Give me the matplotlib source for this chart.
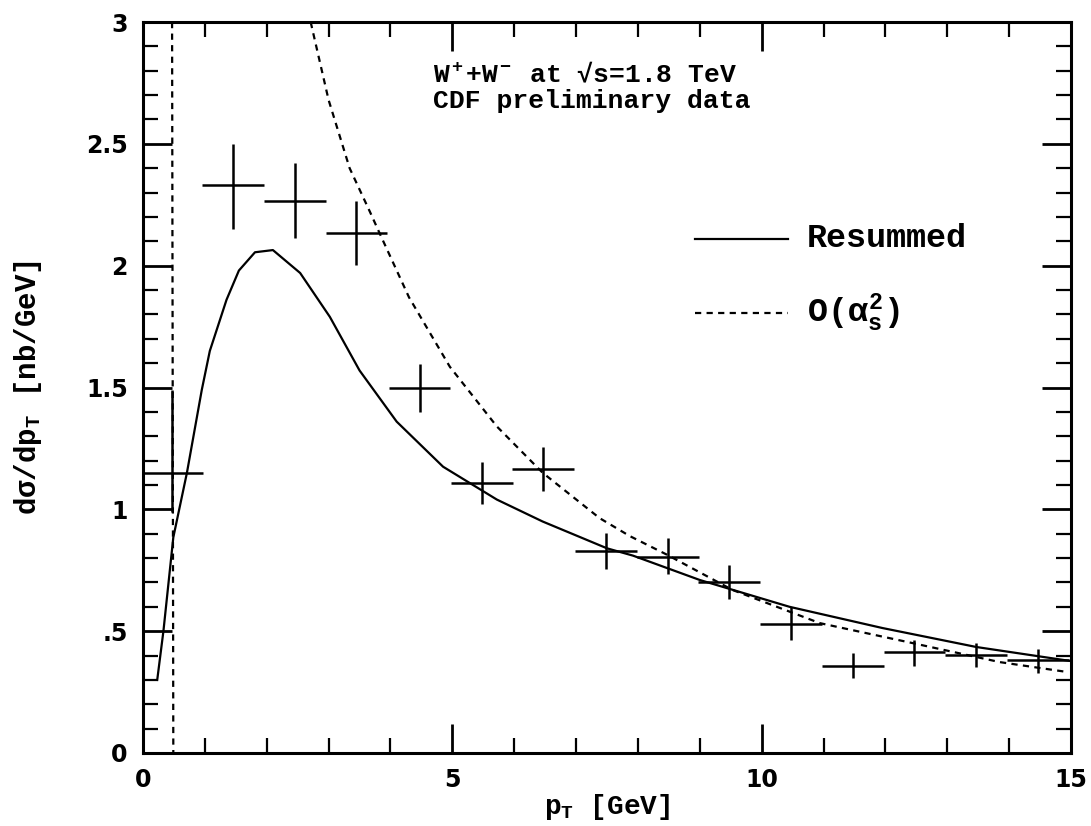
import matplotlib
matplotlib.use("Agg")
import matplotlib.pyplot as plt
from matplotlib.ticker import MultipleLocator, FixedLocator

plt.rcParams['font.family'] = ['Liberation Mono', 'DejaVu Serif']
plt.rcParams['font.weight'] = 'bold'
plt.rcParams['axes.labelweight'] = 'bold'
plt.rcParams['mathtext.fontset'] = 'custom'
plt.rcParams['mathtext.rm'] = 'Liberation Mono:bold'
plt.rcParams['mathtext.it'] = 'Liberation Mono:bold'
plt.rcParams['mathtext.bf'] = 'Liberation Mono:bold'

# CDF preliminary data (bin centers, values, errors)
data_x = [0.47, 1.45, 2.45, 3.45, 4.47, 5.48, 6.47, 7.48, 8.48, 9.47, 10.47, 11.47, 12.47, 13.47, 14.47]
data_y = [1.15, 2.33, 2.265, 2.134, 1.498, 1.108, 1.165, 0.829, 0.804, 0.702, 0.529, 0.357, 0.414, 0.402, 0.382]
data_err_lo = [0.16, 0.18, 0.15, 0.13, 0.10, 0.085, 0.09, 0.075, 0.07, 0.07, 0.067, 0.05, 0.055, 0.05, 0.055]
data_err_hi = [0.34, 0.17, 0.155, 0.13, 0.10, 0.085, 0.09, 0.075, 0.078, 0.07, 0.07, 0.053, 0.05, 0.05, 0.045]
data_xerr = [0.5] * 15

# Resummed curve
res_x = [0.23, 0.33, 0.49, 0.71, 0.95, 1.08, 1.35, 1.55, 1.81, 2.1, 2.54, 3.02, 3.5, 4.1, 4.85,
         5.72, 6.46, 7.5, 7.92, 9.0, 10.45, 11.95, 13.47, 14.98]
res_y = [0.30, 0.50, 0.885, 1.15, 1.49, 1.65, 1.86, 1.98, 2.055, 2.064, 1.97, 1.79, 1.57, 1.36, 1.175,
         1.04, 0.95, 0.84, 0.81, 0.71, 0.60, 0.513, 0.435, 0.378]

# O(alpha_s^2) curve: low-pT branch and main branch
fo_low_x = [0.47, 0.49]
fo_low_y = [3.0, 0.0]
fo_x = [2.71, 3.0, 3.34, 3.67, 3.83, 4.3, 4.96, 5.72, 6.46, 7.38, 7.87, 8.46, 9.53, 10.94, 12.44, 13.85, 14.95]
fo_y = [3.0, 2.68, 2.40, 2.22, 2.13, 1.87, 1.585, 1.34, 1.15, 0.964, 0.89, 0.815, 0.669, 0.533, 0.451, 0.373, 0.332]

x_ticks = [0, 5, 10, 15]
x_ticklabels = ['0', '5', '10', '15']
y_ticks = [0, 0.5, 1.0, 1.5, 2.0, 2.5, 3.0]
y_ticklabels = ['0', '.5', '1', '1.5', '2', '2.5', '3']

fig = plt.figure(figsize=(10.91, 8.26), dpi=100)
ax = fig.add_axes([143/1091, 1 - 753/826, (1071-143)/1091, (753-22)/826])

dash = (0, (2.8, 2.4))
ax.plot(res_x, res_y, color='black', lw=1.6, solid_joinstyle='round')
ax.plot(fo_x, fo_y, color='black', lw=1.6, linestyle=dash)
ax.plot(fo_low_x, fo_low_y, color='black', lw=1.6, linestyle=dash)
ax.errorbar(data_x, data_y, xerr=data_xerr, yerr=[data_err_lo, data_err_hi],
            fmt='none', ecolor='black', elinewidth=1.8, capsize=0)

ax.set_xlim(0, 15)
ax.set_ylim(0, 3)

ax.xaxis.set_major_locator(FixedLocator(x_ticks))
ax.set_xticklabels(x_ticklabels)
ax.xaxis.set_minor_locator(MultipleLocator(1))
ax.yaxis.set_major_locator(FixedLocator(y_ticks))
ax.set_yticklabels(y_ticklabels)
ax.yaxis.set_minor_locator(MultipleLocator(0.1))

ax.tick_params(which='both', direction='in', top=True, right=True, pad=11, colors='black')
ax.tick_params(which='major', length=21, width=2)
ax.tick_params(which='minor', length=11, width=1.6)
for lab in ax.get_xticklabels() + ax.get_yticklabels():
    lab.set_fontfamily('DejaVu Sans')
    lab.set_fontweight('bold')
    lab.set_fontsize(17)
for s in ax.spines.values():
    s.set_linewidth(2.2)

ax.set_xlabel(r'p$_{\rm T}$ [GeV]', fontsize=20, labelpad=0)
ax.set_ylabel(r'd$\sigma$/dp$_{\rm T}$ [nb/GeV]', fontsize=21, labelpad=30)

ax.text(4.69, 2.753, r'W$^{\rm +}$+W$^{\rm -}$ at √s=1.8 TeV', fontsize=19, ha='left', va='baseline')
ax.text(4.69, 2.647, 'CDF preliminary data', fontsize=19, ha='left', va='baseline')

# legend drawn manually
leg_x = [8.92, 10.42]
ax.plot(leg_x, [2.11, 2.11], color='black', lw=1.6)
ax.plot(leg_x, [1.805, 1.805], color='black', lw=1.6, linestyle=dash)
ax.text(10.73, 2.11, 'Resummed', fontsize=24, ha='left', va='center')
ax.text(10.73, 1.805, r'O($\alpha_{\rm s}^{\rm 2}$)', fontsize=24, ha='left', va='center')

fig.savefig('out.png', dpi=100)
